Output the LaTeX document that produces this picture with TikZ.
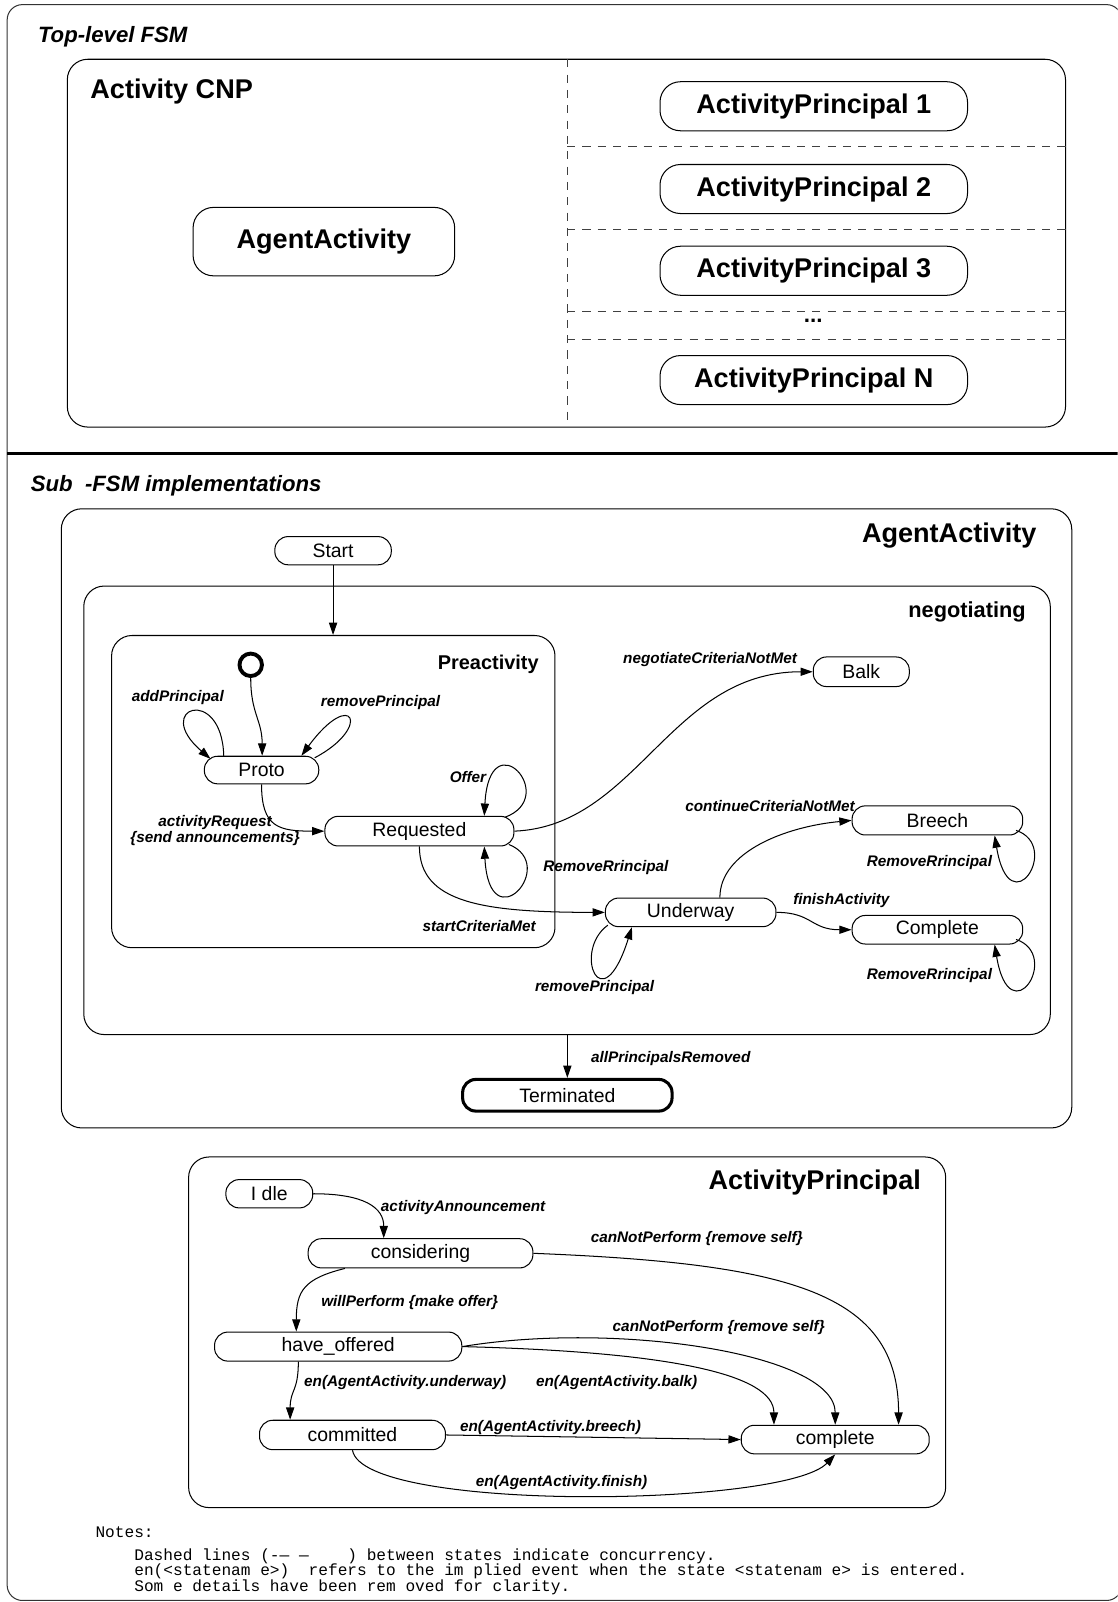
\documentclass[tikz,border=0pt]{standalone}
\usepackage{fontspec}
\setmainfont{Liberation Sans}
\setmonofont{Liberation Mono}
\usetikzlibrary{arrows.meta}
\tikzset{
    box/.style={draw, rounded corners=20pt, inner sep=0pt},   % containers of the state charts
    bigst/.style={draw, rounded corners=20pt, inner sep=0pt, font=\bfseries\fontsize{26.5}{31}\selectfont},
    st/.style={draw, rounded corners=13pt, inner sep=0pt, font=\fontsize{19}{22}\selectfont},
    ttl/.style={inner sep=0pt, font=\bfseries\itshape\fontsize{21.7}{26}\selectfont},
    hdr/.style={inner sep=0pt, font=\bfseries\fontsize{26.5}{31}\selectfont},
    evt/.style={inner sep=0pt, anchor=base, font=\bfseries\itshape\fontsize{15}{13.6}\selectfont},
    note/.style={inner sep=0pt, anchor=base west, font=\ttfamily\fontsize{15.8}{15}\selectfont},
    arr/.style={-{Triangle[length=12pt,width=8pt]}},
    conc/.style={draw=black!75, dash pattern=on 8pt off 7pt}
    }

\begin{document}
\begin{tikzpicture}[x=1pt, y=-1pt, line width=1pt]
	\useasboundingbox (0,0) rectangle (1094,1568);
	\clip (0,0) rectangle (1094,1568);

	% outer frame
	\node[draw=black!80, rounded corners=15pt, inner sep=0pt, minimum width=1091pt, minimum height=1562pt] (frame) at (552.5,785.5) {};
	\draw[line width=3pt] (7,444) -- (1094,444);
	\node[ttl, anchor=base west] (topttl) at (36.7,41.8) {Top-level FSM};
	\node[ttl, anchor=base west] (subttl) at (29.7,481) {Sub\ \ -FSM implementations};

	% top-level FSM
	\node[box, minimum width=977pt, minimum height=360pt] (cnp) at (554.4,238) {};
	\node[hdr, anchor=base west] (cnpttl) at (88,96) {Activity CNP};
	\node[bigst, minimum width=256pt, minimum height=67pt] (aatop) at (317,236.5) {AgentActivity};
	\draw[conc] (555,58) -- (555,413);
	\foreach \y in {143.5,224.5,305,332}
		\draw[conc] (555,\y) -- (1043,\y);
	\foreach \n/\y in {1/104,2/185,3/265,N/372}
		\node[bigst, minimum width=301pt, minimum height=48pt] (ap\n) at (796.5,\y) {ActivityPrincipal \n};
	\node[hdr, anchor=base, font=\bfseries\fontsize{22}{26}\selectfont] (dots) at (796,316) {...};

	% AgentActivity
	\node[box, minimum width=989pt, minimum height=606pt] (aabox) at (554.5,801) {};
	\node[hdr, anchor=base east] (aattl) at (1015,531) {AgentActivity};
	\node[box, minimum width=946pt, minimum height=439pt] (neg) at (555,793.1) {};
	\node[hdr, anchor=base east, font=\bfseries\fontsize{21.3}{26}\selectfont] (negttl) at (1004.4,604.4) {negotiating};
	\node[box, minimum width=434pt, minimum height=305.6pt] (pre) at (326.2,774.8) {};
	\node[hdr, anchor=base east, font=\bfseries\fontsize{19.5}{23}\selectfont] (prettl) at (527.7,655.6) {Preactivity};

	\node[st, minimum width=114pt, minimum height=27.6pt] (start) at (326,539) {Start};
	\node[draw, circle, line width=3.8pt, minimum size=22pt, inner sep=0pt] (init) at (245.4,650.7) {};
	\node[st, minimum width=112pt, minimum height=27pt] (proto) at (256,753.7) {Proto};
	\node[st, minimum width=185pt, minimum height=29pt] (req) at (410.5,813.5) {Requested};
	\node[st, minimum width=94pt, minimum height=29pt] (balk) at (843,657.5) {Balk};
	\node[st, minimum width=167pt, minimum height=28.5pt] (bre) at (917.5,803) {Breech};
	\node[st, minimum width=167pt, minimum height=28pt] (und) at (676,893) {Underway};
	\node[st, minimum width=167pt, minimum height=28pt] (cmp) at (917.5,910) {Complete};
	\node[st, line width=3pt, minimum width=205pt, minimum height=31pt] (term) at (555.3,1072) {Terminated};

	\draw[arr] (start.south) -- (start.south |- pre.north);
	\draw[arr] (init.south) .. controls +(0,35) and +(0,-35) .. ([xshift=0.6pt]proto.north);
	\draw[arr] ([xshift=-37pt]proto.north) .. controls +(-2,-70) and +(-58,-50) .. ([xshift=-50pt,yshift=-3pt]proto.north);
	\draw[arr] ([xshift=52pt,yshift=-2pt]proto.north) .. controls +(57,-30) and +(50,-68) .. ([xshift=39pt]proto.north);
	\draw[arr] (proto.south) .. controls +(0,42) and +(-45,0) .. (req.west);
	\draw[arr] ([xshift=83.5pt,yshift=-1.5pt]req.north) .. controls +(55,-20) and +(5,-95) .. ([xshift=63.5pt]req.north);
	\draw[arr] ([xshift=87.5pt,yshift=2pt]req.south) .. controls +(50,20) and +(5,95) .. ([xshift=63.5pt]req.south);
	\draw[arr] (req.east) .. controls +(120,-5) and +(-140,0) .. (balk.west);
	\draw[arr] (req.south) .. controls +(0,55) and +(-120,0) .. (und.west);
	\draw[arr] ([xshift=3pt,yshift=2pt]und.south west) .. controls +(-35,25) and +(-30,95) .. ([xshift=-57.5pt]und.south);
	\draw[arr] ([xshift=28.6pt]und.north) .. controls +(0,-45) and +(-64,6) .. (bre.west);
	\draw[arr] (und.east) .. controls +(35,0) and +(-40,0) .. (cmp.west);
	\draw[arr] ([xshift=-7pt,yshift=5pt]bre.south east) .. controls +(45,15) and +(15,90) .. ([xshift=56pt]bre.south);
	\draw[arr] ([xshift=-7pt,yshift=5pt]cmp.south east) .. controls +(45,15) and +(15,90) .. ([xshift=56pt]cmp.south);
	\draw[arr] (term.north |- neg.south) -- (term.north);

	\node[evt] (lbadd) at (174,686.6) {addPrincipal};
	\node[evt] (lbrem) at (372.5,691.5) {removePrincipal};
	\node[evt] (lboffer) at (458,766) {Offer};
	\node[evt, anchor=center, align=center] (lbreq) at (210.5,812.9) {activityRequest\\\{send announcements\}};
	\node[evt] (lbremreq) at (593,853) {RemoveRrincipal};
	\node[evt] (lbstart) at (469,911.6) {startCriteriaMet};
	\node[evt] (lbneg) at (695,649) {negotiateCriteriaNotMet};
	\node[evt] (lbcont) at (753.7,794) {continueCriteriaNotMet};
	\node[evt] (lbrembre) at (909.7,848) {RemoveRrincipal};
	\node[evt] (lbfin) at (823.5,885.6) {finishActivity};
	\node[evt] (lbremcmp) at (909.7,959) {RemoveRrincipal};
	\node[evt] (lbremund) at (582,970) {removePrincipal};
	\node[evt] (lball) at (656.5,1040) {allPrincipalsRemoved};

	% ActivityPrincipal
	\node[box, minimum width=741pt, minimum height=343.2pt] (apbox) at (555.1,1304) {};
	\node[hdr, anchor=base east] (apttl) at (901.8,1164.4) {ActivityPrincipal};
	\node[st, minimum width=85pt, minimum height=27.7pt] (idle) at (263.6,1168.4) {I dle};
	\node[st, minimum width=220pt, minimum height=28.6pt] (cons) at (411.6,1226.7) {considering};
	\node[st, minimum width=242pt, minimum height=28.4pt] (hoff) at (331,1318) {have\_offered};
	\node[st, minimum width=182pt, minimum height=28.8pt] (comm) at (345,1404.5) {committed};
	\node[st, minimum width=184pt, minimum height=28pt] (cmpl) at (817.5,1409) {complete};

	\draw[arr] (idle.east) .. controls +(50,0) and +(0,-30) .. ([xshift=-36pt]cons.north);
	\draw[arr] ([xshift=-74pt]cons.south) .. controls +(-40,10) and +(0,-40) .. ([xshift=-41pt]hoff.north);
	\draw[arr] (cons.east) .. controls +(250,10) and +(0,-130) .. ([xshift=62pt]cmpl.north);
	\draw[arr] (hoff.east) .. controls +(150,-25) and +(0,-70) .. (cmpl.north);
	\draw[arr] (hoff.east) .. controls +(200,5) and +(0,-50) .. ([xshift=-60pt]cmpl.north);
	\draw[arr] ([xshift=-39pt]hoff.south) .. controls +(0,30) and +(0,-30) .. ([xshift=-61pt]comm.north);
	\draw[arr] (comm.east) -- (cmpl.west);
	\draw[arr] (comm.south) .. controls +(10,61) and +(-49,52) .. (cmpl.south);

	\node[evt] (lbann) at (453.3,1185.6) {activityAnnouncement};
	\node[evt] (lbcan) at (682,1216.5) {canNotPerform \{remove self\}};
	\node[evt] (lbwill) at (401,1278.5) {willPerform \{make offer\}};
	\node[evt] (lbcanb) at (703.5,1303.5) {canNotPerform \{remove self\}};
	\node[evt] (lbund) at (396.6,1356.8) {en(AgentActivity.underway)};
	\node[evt] (lbbalk) at (603.6,1356.8) {en(AgentActivity.balk)};
	\node[evt] (lbbre) at (538.8,1400.8) {en(AgentActivity.breech)};
	\node[evt] (lbfinish) at (549.6,1455) {en(AgentActivity.finish)};

	% notes
	\node[note] (note0) at (93,1505) {Notes:};
	\node[note] (note1) at (131,1527) {Dashed lines (-— —\ \ \ \ ) between states indicate concurrency.};
	\node[note] (note2) at (131,1542.5) {en(<statenam e>)\ \ refers to the im plied event when the state <statenam e> is entered.};
	\node[note] (note3) at (131,1558) {Som e details have been rem oved for clarity.};
\end{tikzpicture}
\end{document}
